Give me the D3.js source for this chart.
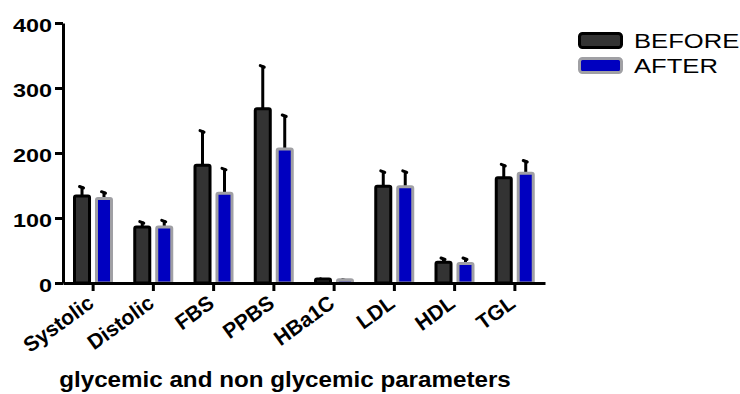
<!DOCTYPE html>
<html>
<head>
<meta charset="utf-8">
<script src="https://cdn.jsdelivr.net/npm/d3@7"></script>
<style>
  body { margin: 0; background: #fff; }
  svg { display: block; font-family: "Liberation Sans", Arial, sans-serif; }
</style>
</head>
<body>
<svg id="chart" width="740" height="394"></svg>
<script>
// data
const categories = ['Systolic', 'Distolic', 'FBS', 'PPBS', 'HBa1C', 'LDL', 'HDL', 'TGL']
const seriesNames = ['BEFORE', 'AFTER']
const beforeMean = [134, 86, 181, 268, 6, 149, 32, 162]
const beforeErr = [16, 10, 55, 68, 2, 25, 8, 22]
const afterMean = [130, 86, 138, 206, 5, 148, 30, 169]
const afterErr = [12, 12, 40, 54, 2, 26, 10, 21]
const yTicks = [0, 100, 200, 300, 400]

const styles = {
  BEFORE: {fill: '#333333', stroke: '#000000'},
  AFTER: {fill: '#0000c0', stroke: '#a0a0a4'},
}

// the picture is stretched sideways, text follows that
const stretch = 1.3
const font = '"Liberation Sans", Arial, sans-serif'

const svg = d3.select('#chart')
const margin = {left: 63, right: 195, top: 23, bottom: 111}
const width = 740 - margin.left - margin.right
const height = 394 - margin.top - margin.bottom

const g = svg.append('g').attr('transform', `translate(${margin.left},${margin.top})`)

// scales
const x = d3.scaleBand().domain(categories).range([0, width])
const x1 = d3.scaleBand().domain(seriesNames).range([10, 50]).paddingInner(0.18)
const y = d3.scaleLinear().domain([0, 400]).range([height, 0])

const rows = categories.map((c, i) => ({
  cat: c,
  vals: [
    {s: 'BEFORE', v: beforeMean[i], e: beforeErr[i]},
    {s: 'AFTER', v: afterMean[i], e: afterErr[i]},
  ],
}))

const groups = g.selectAll('g.cat').data(rows).join('g')
  .attr('class', 'cat')
  .attr('transform', (d) => `translate(${x(d.cat)},0)`)

// error bars (drawn first, bar covers lower end)
groups.selectAll('g.err').data((d) => d.vals).join('g')
  .attr('class', 'err')
  .each(function (d) {
    const cx = x1(d.s) + x1.bandwidth() / 2
    const top = y(d.v + d.e)
    const el = d3.select(this)
    el.append('line')
      .attr('x1', cx).attr('x2', cx)
      .attr('y1', y(d.v)).attr('y2', top + 1)
      .attr('stroke', '#000').attr('stroke-width', 3)
    // small hooked cap
    el.append('path')
      .attr('d', `M${cx - 2.5},${top + 1} L${cx + 1.5},${top + 2.5}`)
      .attr('stroke', '#000').attr('stroke-width', 3).attr('stroke-linecap', 'round')
  })

// bars
groups.selectAll('rect').data((d) => d.vals).join('rect')
  .attr('x', (d) => x1(d.s) + 1.5)
  .attr('width', x1.bandwidth() - 3)
  .attr('y', (d) => y(d.v))
  .attr('height', (d) => y(0) - y(d.v))
  .attr('fill', (d) => styles[d.s].fill)
  .attr('stroke', (d) => styles[d.s].stroke)
  .attr('stroke-width', 3)
  .attr('rx', 1.5)

// y axis
const yAxis = g.append('g')
  .call(d3.axisLeft(y).tickValues(yTicks).tickSize(8).tickSizeOuter(0))
yAxis.select('.domain').attr('stroke', '#000').attr('stroke-width', 3)
yAxis.selectAll('.tick line').attr('stroke', '#000').attr('stroke-width', 3)
yAxis.selectAll('.tick text')
  .attr('font-size', 18).attr('font-weight', 'bold').attr('fill', '#000')
  .attr('font-family', font)
  .attr('text-anchor', 'end')
  .attr('x', 0).attr('y', 0).attr('dy', 0)
  .attr('transform', `translate(-11,8.5) scale(${stretch},1)`)

// x axis
const xAxis = g.append('g')
  .attr('transform', `translate(0,${height})`)
  .call(d3.axisBottom(x).tickSize(8).tickSizeOuter(0))
xAxis.select('.domain').attr('stroke', '#000').attr('stroke-width', 3)
xAxis.selectAll('.tick line').attr('stroke', '#000').attr('stroke-width', 3)
xAxis.selectAll('.tick text')
  .attr('font-size', 21).attr('font-weight', 'bold').attr('fill', '#000')
  .attr('font-family', font)
  .attr('text-anchor', 'end')
  .attr('x', 0).attr('y', 0).attr('dy', 0)
  .attr('transform', 'translate(2,23) rotate(-36)')

// axis title
svg.append('text')
  .attr('transform', `translate(285,387) scale(1.1,1)`)
  .attr('text-anchor', 'middle')
  .attr('font-size', 22).attr('font-weight', 'bold')
  .text('glycemic and non glycemic parameters')

// legend
const legend = svg.append('g').attr('transform', 'translate(578,32)')
const li = legend.selectAll('g').data(seriesNames).join('g')
  .attr('transform', (d, i) => `translate(0,${i * 25})`)
li.append('rect')
  .attr('x', 1.5).attr('y', 1.5).attr('width', 42).attr('height', 14).attr('rx', 3)
  .attr('fill', (d) => styles[d].fill)
  .attr('stroke', (d) => styles[d].stroke)
  .attr('stroke-width', 3)
li.append('text')
  .attr('transform', `translate(56,16) scale(1.28,1)`)
  .attr('font-size', 20)
  .text((d) => d)
</script>
</body>
</html>
